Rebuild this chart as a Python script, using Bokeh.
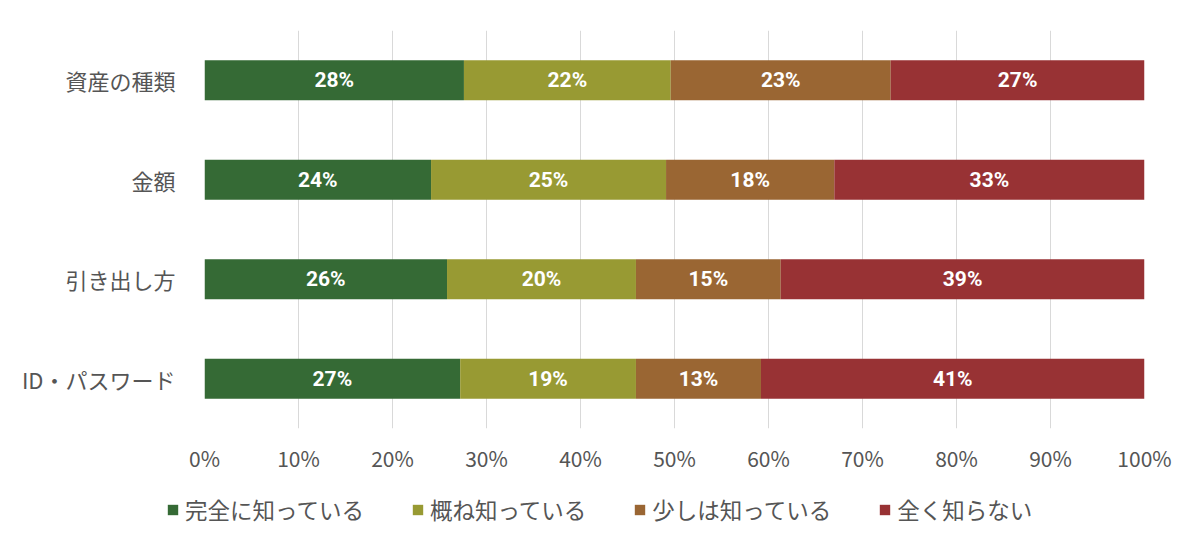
from bokeh.plotting import figure
from bokeh.layouts import column
from bokeh.models import (ColumnDataSource, FactorRange, Range1d, FixedTicker,
                          PrintfTickFormatter, Legend, LegendItem)
from bokeh.core.properties import value
from bokeh.embed import file_html
from bokeh.resources import INLINE

categories = ["資産の種類", "金額", "引き出し方", "ID・パスワード"]
series_names = ["完全に知っている", "概ね知っている", "少しは知っている", "全く知らない"]
fully = [27.6, 24.1, 25.8, 27.2]
mostly = [22.0, 25.0, 20.1, 18.7]
little = [23.4, 17.9, 15.4, 13.3]
none_ = [27.0, 33.0, 38.7, 40.8]
labels_fully = ["28%", "24%", "26%", "27%"]
labels_mostly = ["22%", "25%", "20%", "19%"]
labels_little = ["23%", "18%", "15%", "13%"]
labels_none = ["27%", "33%", "39%", "41%"]
tick_values = [0, 10, 20, 30, 40, 50, 60, 70, 80, 90, 100]
colors = ["#356A35", "#989A33", "#9A6633", "#983234"]

keys = ["fully", "mostly", "little", "none"]
series = [fully, mostly, little, none_]
labels = [labels_fully, labels_mostly, labels_little, labels_none]

data = {"cat": categories}
for k, s in zip(keys, series):
    data[k] = s
source = ColumnDataSource(data)

p = figure(width=1200, height=475, output_backend="svg", toolbar_location=None,
           y_range=FactorRange(factors=categories[::-1], range_padding=0),
           x_range=Range1d(0, 100),
           min_border_left=204, min_border_right=56, min_border_top=30,
           min_border_bottom=45)
p.outline_line_color = None
p.background_fill_color = "white"
p.border_fill_color = "white"

rs = p.hbar_stack(keys, y="cat", height=0.4, color=colors, source=source,
                  line_color=None)

# segment labels
for i, (s, lab) in enumerate(zip(series, labels)):
    lefts = [sum(ser[j] for ser in series[:i]) for j in range(len(categories))]
    centers = [l + v / 2 for l, v in zip(lefts, s)]
    p.text(x=centers, y=categories, text=lab, text_align="center",
           text_baseline="middle", text_color="white",
           text_font=value("Roboto"), text_font_style="bold",
           text_font_size="21px")

p.ygrid.grid_line_color = None
p.xgrid.grid_line_color = "#d9d9d9"
p.xgrid.ticker = FixedTicker(ticks=tick_values)

p.xaxis.ticker = FixedTicker(ticks=tick_values)
p.xaxis.formatter = PrintfTickFormatter(format="%d%%")
p.xaxis.axis_line_color = None
p.xaxis.major_tick_line_color = None
p.xaxis.minor_tick_line_color = None
p.xaxis.major_label_standoff = 8
p.xaxis.major_label_text_font = "Noto Sans CJK JP"
p.xaxis.major_label_text_font_size = "21px"
p.xaxis.major_label_text_color = "#555555"

p.yaxis.axis_line_color = None
p.yaxis.major_tick_line_color = None
p.yaxis.minor_tick_line_color = None
p.yaxis.major_label_standoff = 23
p.yaxis.major_label_text_font = "Noto Sans CJK JP"
p.yaxis.major_label_text_font_size = "22px"
p.yaxis.major_label_text_color = "#555555"

# legend strip below the chart (own plot without axes)
p2 = figure(width=1200, height=77, output_backend="svg", toolbar_location=None,
            x_range=Range1d(0, 1), y_range=Range1d(0, 1),
            x_axis_location=None, y_axis_location=None,
            min_border=0, min_border_left=0, min_border_right=0,
            min_border_top=0, min_border_bottom=0)
p2.grid.grid_line_color = None
p2.outline_line_color = None
rs2 = [p2.hbar(y=[5], left=[5], right=[6], height=0.5, color=c, line_color=None)
       for c in colors]

for fig in (p, p2):
    try:
        fig.frame_align = False
    except Exception:
        pass

items = [LegendItem(label=n, renderers=[r]) for n, r in zip(series_names, rs2)]
legend = Legend(items=items, orientation="horizontal", location=(166, 27),
                glyph_width=13, glyph_height=13, label_standoff=6, spacing=47,
                label_text_font="Noto Sans CJK JP", label_text_font_size="22.5px",
                label_text_color="#555555", border_line_color=None,
                background_fill_alpha=0, padding=0, margin=0)
p2.add_layout(legend, "center")

layout = column(p, p2, spacing=0)
open("out.html", "w").write(file_html(layout, INLINE))
